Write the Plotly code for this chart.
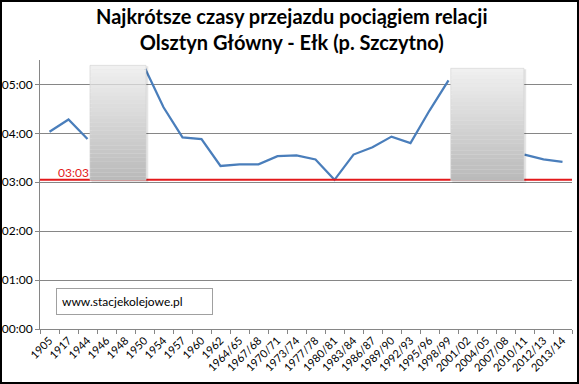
import plotly.graph_objects as go

categories = ["1905", "1917", "1944", "1946", "1948", "1950", "1954", "1957", "1960", "1962",
              "1964/65", "1967/68", "1970/71", "1973/74", "1977/78", "1980/81", "1983/84",
              "1986/87", "1989/90", "1992/93", "1995/96", "1998/99", "2001/02", "2004/05",
              "2007/08", "2010/11", "2012/13", "2013/14"]
travel_times = ["04:02", "04:17", "03:53", None, None, "05:21", "04:32", "03:55", "03:53", "03:20",
                "03:22", "03:22", "03:32", "03:33", "03:28", "03:03", "03:34",
                "03:43", "03:56", "03:48", "04:28", "05:05", None, None,
                None, "03:34", "03:28", "03:25"]
best_time = "03:03"
y_tick_labels = ["00:00", "01:00", "02:00", "03:00", "04:00", "05:00"]


def to_hours(s):
    if s is None:
        return None
    h, m = s.split(":")
    return int(h) + int(m) / 60.0


y_vals = [to_hours(v) for v in travel_times]
best = to_hours(best_time)

W, H = 579, 384
L, R, T, B = 40, 7, 60, 55
pw, ph = W - L - R, H - T - B

fig = go.Figure()
fig.add_trace(go.Scatter(
    x=categories, y=y_vals, mode="lines",
    line=dict(color="#4a7ebb", width=2.25),
    connectgaps=False, hoverinfo="skip", showlegend=False,
))

shapes = []
shapes.append(dict(type="line", xref="paper", yref="y", x0=0, x1=1, y0=best, y1=best,
                   line=dict(color="#e3191b", width=2), layer="above"))


def grad_box(x0, x1, y0, y1, n=30):
    out = []
    out.append(dict(type="rect", xref="x", yref="y", x0=x0 + 0.08, x1=x1 + 0.12,
                    y0=y0 - 0.04, y1=y1 - 0.02, line=dict(width=0),
                    fillcolor="rgba(0,0,0,0.10)", layer="above"))
    top_c = (240, 240, 240)
    bot_c = (186, 186, 186)
    for i in range(n):
        f = i / (n - 1)
        c = tuple(int(round(top_c[k] + (bot_c[k] - top_c[k]) * f)) for k in range(3))
        ya = y1 - (y1 - y0) * i / n
        yb = y1 - (y1 - y0) * (i + 1) / n
        out.append(dict(type="rect", xref="x", yref="y", x0=x0, x1=x1, y0=yb, y1=ya,
                        line=dict(width=0), fillcolor="rgb(%d,%d,%d)" % c, layer="above"))
    out.append(dict(type="rect", xref="x", yref="y", x0=x0, x1=x1, y0=y0, y1=y1,
                    line=dict(width=0.6, color="#d0d0d0"), fillcolor="rgba(0,0,0,0)",
                    layer="above"))
    return out


shapes += grad_box(2.13, 5.08, 3.04, 5.39)
shapes += grad_box(21.12, 24.97, 3.03, 5.33)

shapes.append(dict(type="rect", xref="paper", yref="paper",
                   x0=(1 - L) / pw, x1=(W - 1 - L) / pw,
                   y0=(1 - B) / ph, y1=(H - 1 - B) / ph,
                   line=dict(color="black", width=2), fillcolor="rgba(0,0,0,0)", layer="above"))

annotations = [
    dict(text="<b>Najkrótsze czasy przejazdu pociągiem relacji<br>Olsztyn Główny - Ełk (p. Szczytno)</b>",
         xref="paper", yref="paper", x=(292 - L) / pw, y=(H - 2 - B) / ph,
         xanchor="center", yanchor="top", showarrow=False,
         font=dict(family="Lato", size=20, color="black")),
    dict(text=best_time, xref="paper", yref="y", x=(56 - L) / pw, y=best,
         xanchor="left", yanchor="bottom", showarrow=False, yshift=-2,
         font=dict(family="Lato", size=12, color="#e3191b")),
    dict(text="www.stacjekolejowe.pl", xref="paper", yref="paper",
         x=(56 - L) / pw, y=(329 - 301) / ph, xanchor="left", yanchor="middle",
         showarrow=False, bgcolor="white", bordercolor="#a0a0a0", borderwidth=1,
         borderpad=5, width=145, align="left",
         font=dict(family="Lato", size=12, color="black")),
]

fig.update_layout(
    width=W, height=H, margin=dict(l=L, r=R, t=T, b=B, autoexpand=False),
    paper_bgcolor="white", plot_bgcolor="white",
    shapes=shapes, annotations=annotations, showlegend=False,
    xaxis=dict(type="category", categoryorder="array", categoryarray=categories,
               range=[-0.5, len(categories) - 0.5], tickangle=-45,
               tickfont=dict(family="Lato", size=11, color="black"),
               showgrid=False, showline=True, linecolor="#868686", linewidth=1,
               ticks="outside", ticklen=4, tickcolor="#868686", tickson="boundaries",
               zeroline=False, fixedrange=True, automargin=False),
    yaxis=dict(range=[0, 5.5], tickvals=[0, 1, 2, 3, 4, 5], ticktext=y_tick_labels,
               tickfont=dict(family="Lato", size=12, color="black"),
               showgrid=True, gridcolor="#868686", gridwidth=1,
               showline=True, linecolor="#868686", linewidth=1,
               ticks="outside", ticklen=4, tickcolor="#868686",
               zeroline=False, fixedrange=True, automargin=False),
)

fig.write_html("out.html", config={"displayModeBar": False},
               post_script="document.body.style.margin='0';document.body.style.overflow='hidden';")
